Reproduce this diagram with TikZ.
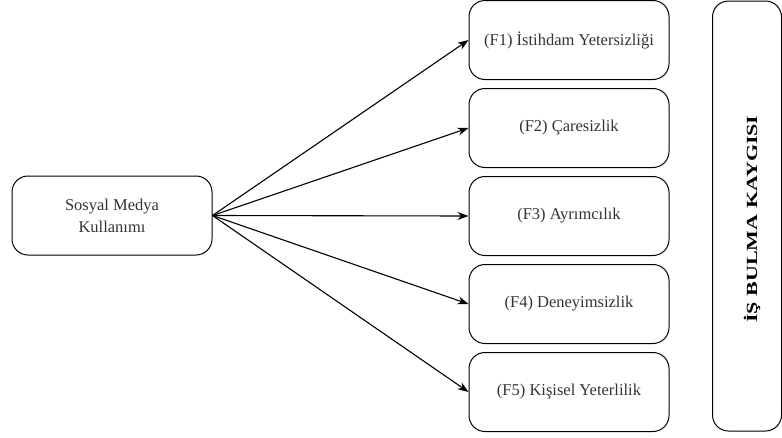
\documentclass[tikz,border=0pt]{standalone}
\usepackage{fontspec}
\setmainfont{Liberation Serif}
\usetikzlibrary{arrows.meta}
\begin{document}
\begin{tikzpicture}[x=1pt,y=-1pt,
  rbox/.style={draw,line width=1pt,rounded corners=16pt,minimum width=200pt,minimum height=79pt,align=center,font=\fontsize{16.5}{22}\selectfont,text=black!80,inner sep=0pt},
  conn/.style={-{Stealth[length=11pt,width=8pt]},line width=1.1pt}]
\useasboundingbox (0,0) rectangle (782,437);
\node[rbox] (s) at (112,215.5) {Sosyal Medya\\Kullanımı};
\node[rbox] (f1) at (569,40) {(F1) İstihdam Yetersizliği};
\node[rbox] (f2) at (569,128) {(F2) Çaresizlik};
\node[rbox] (f3) at (569,216) {(F3) Ayrımcılık};
\node[rbox] (f4) at (569,304) {(F4) Deneyimsizlik};
\node[rbox] (f5) at (569,392) {(F5) Kişisel Yeterlilik};
\node[draw,line width=1pt,rounded corners=16pt,minimum width=69pt,minimum height=430pt,inner sep=0pt] (k) at (747,216) {};
\node[rotate=90,font=\fontsize{15.5}{18}\selectfont\bfseries] (kt) at (752,219) {\scalebox{1.42}[1]{İŞ BULMA KAYGISI}};
\foreach \f in {f1,f2,f3,f4,f5}
  \draw[conn] (s.east) -- (\f.west);
\end{tikzpicture}
\end{document}
